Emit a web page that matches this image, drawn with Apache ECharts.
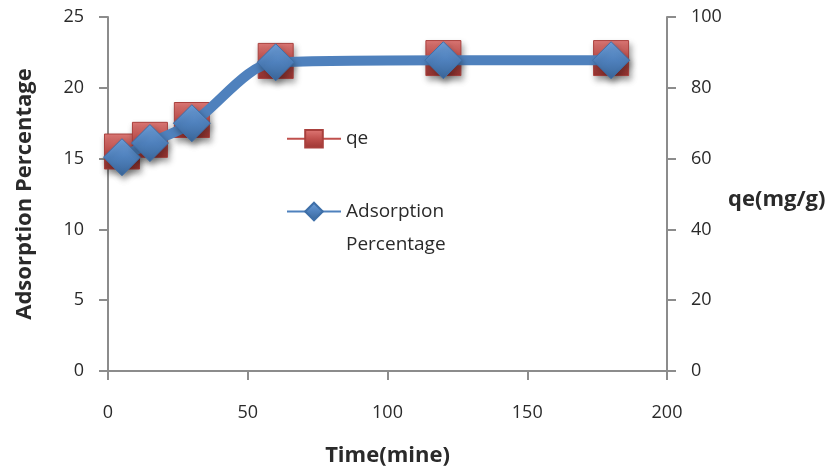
<!DOCTYPE html>
<html><head><meta charset="utf-8">
<script src="https://cdn.jsdelivr.net/npm/echarts@6/dist/echarts.min.js"></script>
<style>html,body{margin:0;padding:0;background:#fff}#c{width:834px;height:475px}</style>
</head><body><div id="c"></div>
<script>
const time = [5, 15, 30, 60, 120, 180];
const adsorption = [15.1, 16.1, 17.5, 21.8, 21.95, 21.95];
const qe = [62.0, 65.3, 70.9, 87.6, 88.4, 88.4];
const xTicks = [0, 50, 100, 150, 200];
const leftTicks = [0, 5, 10, 15, 20, 25];
const rightTicks = [0, 20, 40, 60, 80, 100];

const FONT = 'Open Sans';
const axisGray = '#8c8c8c';
const txt = '#2a2a2a';
const red = '#C0504D', blue = '#4F81BD';

const chart = echarts.init(document.getElementById('c'), null, {renderer: 'canvas'});
const redFill = new echarts.graphic.LinearGradient(0, 0, 0, 1, [
  {offset: 0, color: '#E07A77'}, {offset: 0.5, color: '#C0504D'}, {offset: 1, color: '#9B3532'}]);
const blueFill = new echarts.graphic.LinearGradient(0, 0, 0, 1, [
  {offset: 0, color: '#6FA0DA'}, {offset: 0.5, color: '#4F81BD'}, {offset: 1, color: '#3A6699'}]);

chart.setOption({
  animation: false,
  backgroundColor: '#fff',
  textStyle: {fontFamily: FONT},
  grid: {left: 108, right: 167, top: 17, bottom: 104, containLabel: false},
  xAxis: {
    type: 'value', min: 0, max: 200, interval: 50,
    name: 'Time(mine)', nameLocation: 'middle', nameGap: 74,
    nameTextStyle: {fontFamily: FONT, fontWeight: 'bold', fontSize: 22, color: txt},
    axisLine: {show: true, lineStyle: {color: axisGray, width: 2}},
    axisTick: {show: true, length: 9, lineStyle: {color: axisGray, width: 2}},
    axisLabel: {fontFamily: FONT, fontSize: 18, color: txt, margin: 33,
      formatter: v => xTicks.includes(v) ? String(v) : ''},
    splitLine: {show: false}
  },
  yAxis: [{
    type: 'value', min: 0, max: 25, interval: 5, position: 'left',
    name: 'Adsorption Percentage', nameLocation: 'middle', nameGap: 72, nameRotate: 90,
    nameTextStyle: {fontFamily: FONT, fontWeight: 'bold', fontSize: 22, color: txt},
    axisLine: {show: true, lineStyle: {color: axisGray, width: 2}},
    axisTick: {show: true, length: 9, lineStyle: {color: axisGray, width: 2}},
    axisLabel: {fontFamily: FONT, fontSize: 18, color: txt, margin: 24,
      formatter: v => leftTicks.includes(v) ? String(v) : ''},
    splitLine: {show: false}
  }, {
    type: 'value', min: 0, max: 100, interval: 20, position: 'right',
    name: 'qe(mg/g)', nameLocation: 'middle', nameGap: 61, nameRotate: 0,
    nameTextStyle: {fontFamily: FONT, fontWeight: 'bold', fontSize: 22, color: txt,
      align: 'left', verticalAlign: 'top', lineHeight: 12},
    axisLine: {show: true, lineStyle: {color: axisGray, width: 2}},
    axisTick: {show: true, length: 9, lineStyle: {color: axisGray, width: 2}},
    axisLabel: {fontFamily: FONT, fontSize: 18, color: txt, margin: 24,
      formatter: v => rightTicks.includes(v) ? String(v) : ''},
    splitLine: {show: false}
  }],
  legend: [{
    left: 281, top: 124, orient: 'vertical', itemWidth: 54, itemHeight: 22,
    textStyle: {fontFamily: FONT, fontSize: 19, color: txt},
    data: ['qe']
  }, {
    left: 281, top: 157, orient: 'vertical', itemWidth: 54, itemHeight: 22,
    textStyle: {fontFamily: FONT, fontSize: 19, color: txt, lineHeight: 33},
    formatter: () => '\nAdsorption\nPercentage',
    data: ['Adsorption Percentage']
  }],
  series: [{
    name: 'qe', type: 'line', yAxisIndex: 1, smooth: 0.3,
    data: time.map((t, i) => [t, qe[i]]),
    symbol: 'rect', symbolSize: 35,
    lineStyle: {color: red, width: 3},
    itemStyle: {color: redFill, borderColor: '#A9403D', borderWidth: 1,
      shadowBlur: 6, shadowColor: 'rgba(0,0,0,0.35)', shadowOffsetY: 4, shadowOffsetX: 2},
    z: 2
  }, {
    name: 'Adsorption Percentage', type: 'line', yAxisIndex: 0, smooth: 0.3,
    data: time.map((t, i) => [t, adsorption[i]]),
    symbol: 'diamond', symbolSize: [37, 37],
    lineStyle: {color: blue, width: 10},
    itemStyle: {color: blueFill, borderColor: '#3E6FA8', borderWidth: 1,
      shadowBlur: 6, shadowColor: 'rgba(0,0,0,0.35)', shadowOffsetY: 4, shadowOffsetX: 2},
    z: 3
  }]
});
</script></body></html>
